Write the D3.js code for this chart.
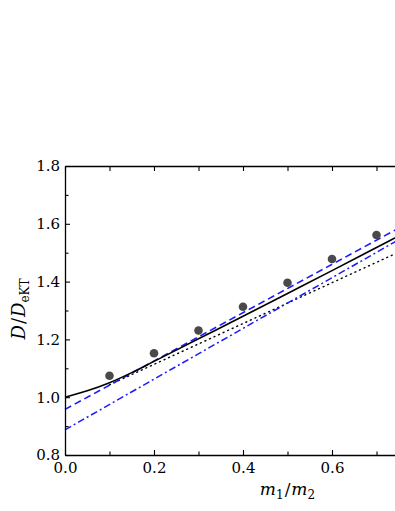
<!DOCTYPE html>
<html>
<head>
<meta charset="utf-8">
<script src="https://cdn.jsdelivr.net/npm/d3@7"></script>
<style>
  body { margin: 0; background: #fff; }
  svg { display: block; font-family: "DejaVu Serif", "Liberation Serif", serif; }
</style>
</head>
<body>
<svg id="chart" width="395" height="511"></svg>
<script>
// simulation points
const simX = [0.1, 0.2, 0.3, 0.4, 0.5, 0.6, 0.7];
const simY = [1.074, 1.152, 1.231, 1.313, 1.396, 1.478, 1.561];

// full theory (solid, slightly curved)
const theoryX = [0, 0.05, 0.1, 0.15, 0.2, 0.3, 0.4, 0.5, 0.6, 0.7, 0.75];
const theoryY = [1.0, 1.022, 1.050, 1.085, 1.124, 1.202, 1.280, 1.359, 1.438, 1.518, 1.558];

// approximations
const dashedX = [0, 0.75];
const dashedY = [0.958, 1.585];
const dashDotX = [0, 0.75];
const dashDotY = [0.887, 1.545];
const dottedX = [0.1, 0.75];
const dottedY = [1.043, 1.502];

const xTicks = [0, 0.2, 0.4, 0.6];
const xMinorTicks = [0.1, 0.3, 0.5, 0.7];
const yTicks = [0.8, 1.0, 1.2, 1.4, 1.6, 1.8];
const yMinorTicks = [0.9, 1.1, 1.3, 1.5, 1.7];

const svg = d3.select("#chart");

const x = d3.scaleLinear().domain([0, 0.8]).range([65, 421]);
const y = d3.scaleLinear().domain([0.8, 1.8]).range([455, 166]);

const fmt = d3.format(".1f");

const line = d3.line()
  .x(d => x(d[0]))
  .y(d => y(d[1]));

function drawSeries(xs, ys, color, dash, width, curve) {
  const pts = xs.map((v, i) => [v, ys[i]]);
  svg.append("path")
    .datum(pts)
    .attr("fill", "none")
    .attr("stroke", color)
    .attr("stroke-width", width)
    .attr("stroke-dasharray", dash)
    .attr("stroke-linecap", dash === "1,4" ? "round" : "butt")
    .attr("d", line.curve(curve || d3.curveLinear));
}

drawSeries(dottedX, dottedY, "#000", "1,4", 1.4);
drawSeries(dashDotX, dashDotY, "#1a1aff", "7,3,2,3", 1.5);
drawSeries(dashedX, dashedY, "#1a1aff", "7,4", 1.6);
drawSeries(theoryX, theoryY, "#000", null, 1.6, d3.curveMonotoneX);

svg.append("g")
  .selectAll("circle")
  .data(simX)
  .enter().append("circle")
  .attr("cx", d => x(d))
  .attr("cy", (d, i) => y(simY[i]))
  .attr("r", 4.3)
  .attr("fill", "#4a4a4a");

// axes
const axisStyle = g => {
  g.selectAll("path.domain").attr("stroke-width", 1.3);
  g.selectAll(".tick line").attr("stroke-width", 1.1);
  g.selectAll("text").attr("font-size", 15).attr("fill", "#000")
    .attr("font-family", "DejaVu Serif");
};

svg.append("g")
  .attr("transform", `translate(0,${y(0.8)})`)
  .call(d3.axisBottom(x).tickValues(xTicks).tickFormat(fmt)
    .tickSizeInner(-5).tickSizeOuter(0).tickPadding(7))
  .call(axisStyle);

svg.append("g")
  .attr("transform", `translate(0,${y(0.8)})`)
  .call(d3.axisBottom(x).tickValues(xMinorTicks).tickFormat("")
    .tickSizeInner(-3.5).tickSizeOuter(0))
  .call(g => g.select(".domain").remove())
  .call(axisStyle);

svg.append("g")
  .attr("transform", `translate(0,${y(1.8)})`)
  .call(d3.axisTop(x).tickValues(xTicks.concat(xMinorTicks)).tickFormat("")
    .tickSizeInner(-5).tickSizeOuter(0))
  .call(axisStyle);

svg.append("g")
  .attr("transform", `translate(${x(0)},0)`)
  .call(d3.axisLeft(y).tickValues(yTicks).tickFormat(fmt)
    .tickSizeInner(-5).tickSizeOuter(0).tickPadding(5))
  .call(axisStyle);

svg.append("g")
  .attr("transform", `translate(${x(0)},0)`)
  .call(d3.axisLeft(y).tickValues(yMinorTicks).tickFormat("")
    .tickSizeInner(-3.5).tickSizeOuter(0))
  .call(g => g.select(".domain").remove())
  .call(axisStyle);

// axis titles
const xTitle = svg.append("text")
  .attr("x", 287.5)
  .attr("y", 495)
  .attr("text-anchor", "middle")
  .attr("font-size", 17);
xTitle.append("tspan").attr("font-style", "italic").text("m");
xTitle.append("tspan").attr("font-size", 12).attr("dy", 4).text("1");
xTitle.append("tspan").attr("dy", -4).attr("dx", 1).text("/");
xTitle.append("tspan").attr("font-style", "italic").attr("dx", 1).text("m");
xTitle.append("tspan").attr("font-size", 12).attr("dy", 4).text("2");

const yTitle = svg.append("text")
  .attr("transform", "translate(25,309) rotate(-90)")
  .attr("text-anchor", "middle")
  .attr("font-size", 18);
yTitle.append("tspan").attr("font-style", "italic").text("D");
yTitle.append("tspan").attr("dx", 1).text("/");
yTitle.append("tspan").attr("font-style", "italic").attr("dx", 1).text("D");
yTitle.append("tspan").attr("font-size", 12).attr("dy", 4).text("eKT");
</script>
</body>
</html>
